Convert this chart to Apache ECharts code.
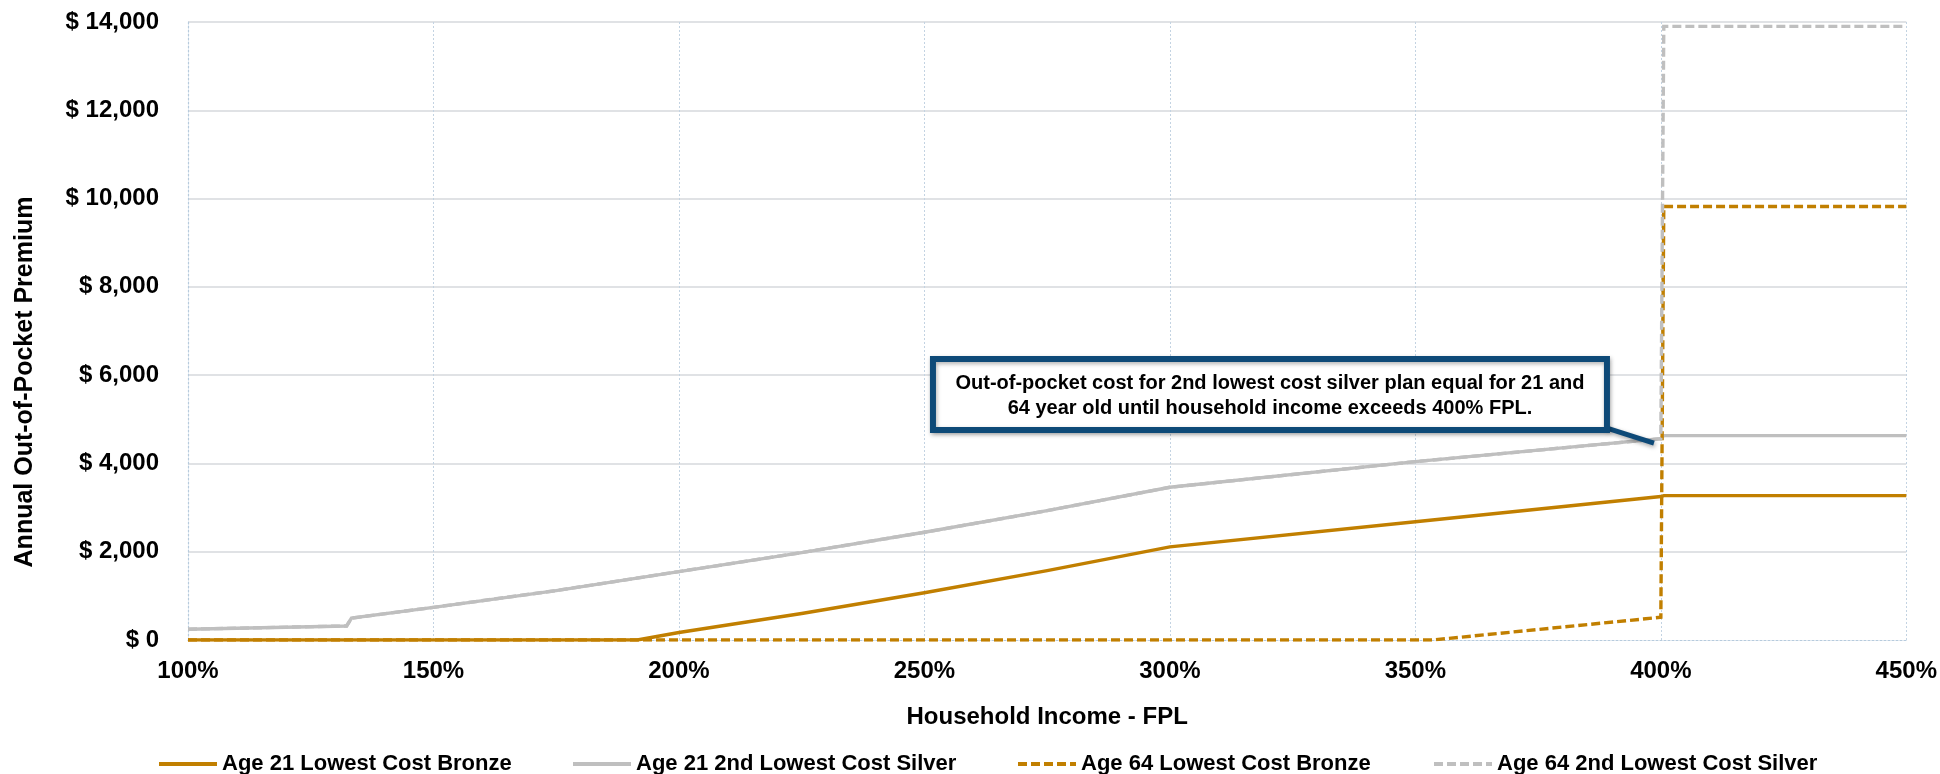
<!DOCTYPE html>
<html>
<head>
<meta charset="utf-8">
<title>Annual Out-of-Pocket Premium by Household Income</title>
<script src="https://cdn.jsdelivr.net/npm/echarts@6/dist/echarts.min.js"></script>
<style>
  html, body { margin: 0; padding: 0; background: #ffffff; }
  #chart { width: 1940px; height: 774px; }
</style>
</head>
<body>
<div id="chart"></div>
<script>
// Household income as % of the federal poverty level (x) and annual premium in $ (y)
const bronze21Fpl  = [100, 191.5, 200, 225, 250, 275, 300, 350, 400, 400.6, 450];
const bronze21Cost = [0, 0, 170, 600, 1070, 1570, 2110, 2680, 3250, 3270, 3270];

const silver21Fpl  = [100, 132.3, 133.3, 150, 175, 200, 225, 250, 275, 300, 350, 400, 400.6, 450];
const silver21Cost = [245, 318, 495, 740, 1120, 1550, 1980, 2440, 2930, 3460, 4040, 4560, 4630, 4630];

const bronze64Fpl  = [100, 353.5, 400, 400.6, 450];
const bronze64Cost = [0, 0, 515, 9820, 9820];

const silver64Fpl  = [100, 132.3, 133.3, 150, 175, 200, 225, 250, 275, 300, 350, 400, 400.6, 450];
const silver64Cost = [245, 318, 495, 740, 1120, 1550, 1980, 2440, 2930, 3460, 4040, 4560, 13900, 13900];

const seriesNames = [
  'Age 21 Lowest Cost Bronze',
  'Age 21 2nd Lowest Cost Silver',
  'Age 64 Lowest Cost Bronze',
  'Age 64 2nd Lowest Cost Silver'
];

const xTicks = { min: 100, max: 450, step: 50 };
const yTicks = { min: 0, max: 14000, step: 2000 };

const calloutLines = [
  'Out-of-pocket cost for 2nd lowest cost silver plan equal for 21 and',
  '64 year old until household income exceeds 400% FPL.'
];

const ORANGE = '#C17F00';
const GREY = '#BFBFBF';
const NAVY = '#0E4A78';
const FONT = '"Liberation Sans", Arial, Helvetica, sans-serif';

function pairs(xs, ys) { return xs.map((x, i) => [x, ys[i]]); }

const chart = echarts.init(document.getElementById('chart'), null, { renderer: 'canvas' });

const lineSeries = [
  { name: seriesNames[0], data: pairs(bronze21Fpl, bronze21Cost), color: ORANGE, dash: 'solid' },
  { name: seriesNames[1], data: pairs(silver21Fpl, silver21Cost), color: GREY,   dash: 'solid' },
  { name: seriesNames[2], data: pairs(bronze64Fpl, bronze64Cost), color: ORANGE, dash: [9, 4] },
  { name: seriesNames[3], data: pairs(silver64Fpl, silver64Cost), color: GREY,   dash: [9, 4] }
].map(s => ({
  name: s.name,
  type: 'line',
  data: s.data,
  symbol: 'none',
  showSymbol: false,
  smooth: false,
  animation: false,
  color: s.color,
  lineStyle: { color: s.color, width: 3.4, type: s.dash, cap: 'butt', join: 'miter' }
}));

// One legend per series so each key sits where it belongs along the bottom row
const legendLefts = [157, 571, 1016, 1432];
const legends = seriesNames.map((n, i) => ({
  data: [n],
  left: legendLefts[i],
  top: 753,
  padding: 0,
  itemWidth: 58,
  itemHeight: 14,
  itemGap: 0,
  itemStyle: { color: 'transparent', borderColor: 'transparent', borderWidth: 0, opacity: 0 },
  lineStyle: { width: 4 },
  textStyle: { fontFamily: FONT, fontWeight: 'bold', fontSize: 22, color: '#000' }
}));

chart.setOption({
  backgroundColor: '#ffffff',
  animation: false,
  grid: { left: 188, right: 32, top: 22, bottom: 134, containLabel: false },
  legend: legends,
  xAxis: {
    type: 'value',
    min: xTicks.min,
    max: xTicks.max,
    interval: xTicks.step,
    name: 'Household Income - FPL',
    nameLocation: 'middle',
    nameGap: 65,
    nameTextStyle: { fontFamily: FONT, fontWeight: 'bold', fontSize: 24, color: '#000' },
    axisLine: { show: true, onZero: false, lineStyle: { color: '#B7CBDD', width: 1.2, type: [2, 2] } },
    axisTick: { show: false },
    axisLabel: {
      formatter: v => v + '%',
      margin: 19,
      fontFamily: FONT, fontWeight: 'bold', fontSize: 24, color: '#000'
    },
    splitLine: { show: true, lineStyle: { color: '#C3D3E2', width: 1, type: [2, 2] } }
  },
  yAxis: {
    type: 'value',
    min: yTicks.min,
    max: yTicks.max,
    interval: yTicks.step,
    axisLine: { show: true, lineStyle: { color: '#B7CBDD', width: 1.2, type: [2, 2] } },
    axisTick: { show: false },
    axisLabel: {
      formatter: v => '$ ' + v.toLocaleString('en-US'),
      margin: 29,
      fontFamily: FONT, fontWeight: 'bold', fontSize: 24, color: '#000'
    },
    splitLine: { show: true, showMinLine: false, lineStyle: { color: '#D6D9DC', width: 1.6, type: 'solid' } }
  },
  series: lineSeries
});

// Rotated y-axis title and the callout box pointing at the 400% FPL cliff
function drawOverlays() {
  const tip = chart.convertToPixel({ gridIndex: 0 }, [398.6, 4460]);
  const boxRight = tip[0] - 47;
  const boxBottom = tip[1] - 13;
  const boxW = 674, boxH = 71;
  const boxX = boxRight - boxW, boxY = boxBottom - boxH;

  chart.setOption({
    graphic: [
      {
        type: 'text',
        x: 25, y: 382,
        rotation: Math.PI / 2,
        style: {
          text: 'Annual Out-of-Pocket Premium',
          fontFamily: FONT, fontWeight: 'bold', fontSize: 25, fill: '#000',
          align: 'center', verticalAlign: 'middle'
        }
      },
      {
        type: 'line',
        z: 100,
        shape: { x1: boxRight, y1: boxBottom - 2, x2: tip[0], y2: tip[1] },
        style: { stroke: NAVY, lineWidth: 5, shadowBlur: 4, shadowColor: 'rgba(0,0,0,0.35)', shadowOffsetX: 1, shadowOffsetY: 2 }
      },
      {
        type: 'rect',
        z: 101,
        shape: { x: boxX, y: boxY, width: boxW, height: boxH },
        style: { fill: '#ffffff', stroke: NAVY, lineWidth: 6, shadowBlur: 4, shadowColor: 'rgba(0,0,0,0.3)', shadowOffsetX: 1, shadowOffsetY: 2 }
      },
      {
        type: 'text',
        z: 102,
        x: boxX + boxW / 2, y: boxY + boxH / 2 + 1,
        style: {
          text: calloutLines.join('\n'),
          fontFamily: FONT, fontWeight: 'bold', fontSize: 20, lineHeight: 25, fill: '#000',
          align: 'center', verticalAlign: 'middle'
        }
      }
    ]
  });
}
drawOverlays();
</script>
</body>
</html>
